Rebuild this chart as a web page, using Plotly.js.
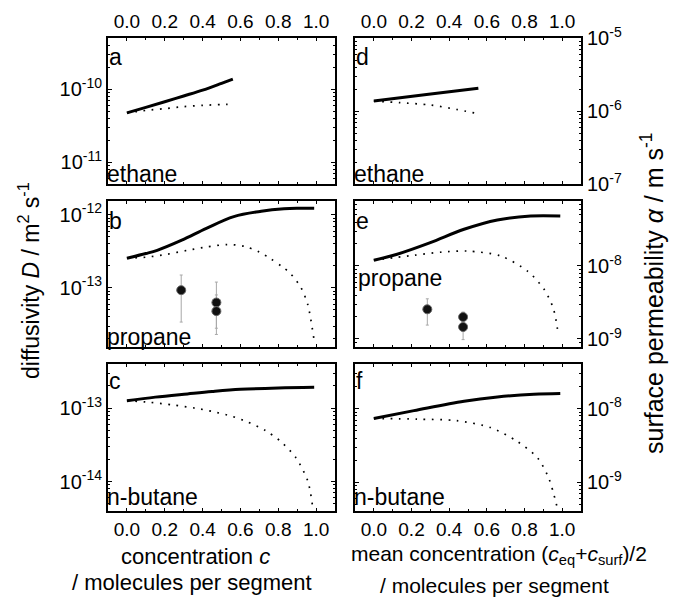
<!DOCTYPE html>
<html>
<head>
<meta charset="utf-8">
<script src="https://cdn.plot.ly/plotly-3.0.1.min.js"></script>
<style>
  html, body { margin: 0; padding: 0; background: #fff; }
  #chart { width: 677px; height: 599px; }
</style>
</head>
<body>
<div id="chart"></div>
<script>
// ---- concentration grids and model curves (c in molecules per segment) ----
// ethane, diffusivity D (m^2/s)
const ethaneD_c      = [0, 0.1, 0.2, 0.3, 0.4, 0.5, 0.56];
const ethaneD_solid  = [4.73e-11, 5.62e-11, 6.7e-11, 8.04e-11, 9.68e-11, 1.2e-10, 1.37e-10];
const ethaneD_dotted = [4.73e-11, 5.1e-11, 5.4e-11, 5.75e-11, 5.98e-11, 6.15e-11, 6.2e-11];

// propane, diffusivity D
const propaneD_cs     = [0, 0.1, 0.16, 0.29, 0.42, 0.565, 0.71, 0.83, 0.9, 0.99];
const propaneD_solid  = [2.55e-13, 2.95e-13, 3.27e-13, 4.5e-13, 6.53e-13, 9.46e-13, 1.12e-12, 1.21e-12, 1.23e-12, 1.23e-12];
const propaneD_cd     = [0, 0.1, 0.21, 0.32, 0.42, 0.53, 0.62, 0.7, 0.76, 0.82, 0.86, 0.92, 0.956, 0.988];
const propaneD_dotted = [2.55e-13, 2.63e-13, 2.88e-13, 3.27e-13, 3.63e-13, 3.92e-13, 3.72e-13, 3.09e-13, 2.51e-13, 1.95e-13, 1.62e-13, 1.01e-13, 5.9e-14, 2.04e-14];
// propane, measured D with error ranges
const propaneD_expC  = [0.287, 0.473, 0.473];
const propaneD_expV  = [9.3e-14, 6.3e-14, 4.8e-14];
const propaneD_expHi = [1.5e-13, 1.2e-13, 8.0e-14];
const propaneD_expLo = [3.4e-14, 2.8e-14, 2.3e-14];

// n-butane, diffusivity D
const butaneD_cs     = [0, 0.15, 0.32, 0.45, 0.6, 0.8, 0.99];
const butaneD_solid  = [1.26e-13, 1.41e-13, 1.56e-13, 1.68e-13, 1.8e-13, 1.88e-13, 1.92e-13];
const butaneD_cd     = [0, 0.12, 0.246, 0.36, 0.46, 0.55, 0.637, 0.73, 0.814, 0.894, 0.956, 0.982];
const butaneD_dotted = [1.26e-13, 1.2e-13, 1.1e-13, 1.0e-13, 8.9e-14, 7.8e-14, 6.5e-14, 5.0e-14, 3.5e-14, 2.1e-14, 1.02e-14, 4.5e-15];

// ethane, surface permeability alpha (m/s)
const ethaneA_cs     = [0, 0.28, 0.555];
const ethaneA_solid  = [1.37e-6, 1.68e-6, 2.05e-6];
const ethaneA_cd     = [0, 0.14, 0.3, 0.44, 0.545];
const ethaneA_dotted = [1.37e-6, 1.3e-6, 1.21e-6, 1.05e-6, 9.3e-7];

// propane, surface permeability alpha
const propaneA_cs     = [0, 0.124, 0.3, 0.479, 0.656, 0.833, 0.99];
const propaneA_solid  = [1.2e-8, 1.45e-8, 2.09e-8, 3.18e-8, 4.27e-8, 4.84e-8, 4.84e-8];
const propaneA_cd     = [0, 0.213, 0.36, 0.497, 0.674, 0.816, 0.904, 0.954, 0.98];
const propaneA_dotted = [1.2e-8, 1.4e-8, 1.55e-8, 1.6e-8, 1.37e-8, 8.5e-9, 4.8e-9, 2.57e-9, 1.12e-9];
const propaneA_expC  = [0.284, 0.474, 0.474];
const propaneA_expV  = [2.55e-9, 2.0e-9, 1.46e-9];
const propaneA_expHi = [3.55e-9, 2.34e-9, 1.8e-9];
const propaneA_expLo = [1.55e-9, 1.3e-9, 0.98e-9];

// n-butane, surface permeability alpha
const butaneA_cs     = [0, 0.213, 0.479, 0.656, 0.85, 0.99];
const butaneA_solid  = [7.4e-9, 9.46e-9, 1.27e-8, 1.45e-8, 1.58e-8, 1.62e-8];
const butaneA_cd     = [0, 0.23, 0.44, 0.62, 0.76, 0.87, 0.93, 0.975];
const butaneA_dotted = [7.4e-9, 7.24e-9, 6.9e-9, 5.56e-9, 3.63e-9, 2.14e-9, 1.12e-9, 4.4e-10];

// tick labels along concentration
const concTicks = [0, 0.2, 0.4, 0.6, 0.8, 1.0];
const concTickText = ['0.0', '0.2', '0.4', '0.6', '0.8', '1.0'];
// labelled powers of ten on each vertical axis
const expD_ethane  = [-11, -10];
const expD_propane = [-13, -12];
const expD_butane  = [-14, -13];
const expA_ethane  = [-7, -6, -5];
const expA_propane = [-9, -8];
const expA_butane  = [-9, -8];

// ---- figure geometry (pixels) ----
const W = 677, H = 599;
const FONT = 'Liberation Sans, Arial, Helvetica, sans-serif';
const px = x => x / W;
const py = y => 1 - y / H;

const colL = [108, 335], colR = [355, 581];
const rows = [[38, 184], [201, 347], [364, 511]];

const solidLine  = { color: '#000', width: 3, shape: 'spline', smoothing: 1 };
const dottedLine = { color: '#000', width: 1.7, dash: '1.7px,6.6px', shape: 'spline', smoothing: 0.8 };

const traces = [];
function curve(xa, ya, c, v, line) {
  traces.push({ type: 'scatter', mode: 'lines', x: c, y: v, xaxis: xa, yaxis: ya,
                line: line, hoverinfo: 'skip', showlegend: false });
}
function measured(xa, ya, c, v, hi, lo) {
  traces.push({ type: 'scatter', mode: 'markers', x: c, y: v, xaxis: xa, yaxis: ya,
    marker: { symbol: 'circle', size: 9, color: '#111', line: { color: '#666', width: 1 } },
    error_y: { type: 'data', symmetric: false,
               array: hi.map((h, i) => h - v[i]),
               arrayminus: lo.map((l, i) => v[i] - l),
               color: '#a8a8a8', thickness: 1, width: 1.5 },
    showlegend: false });
}

// left column: D
curve('x',  'y',  ethaneD_c, ethaneD_dotted, dottedLine);
curve('x',  'y',  ethaneD_c, ethaneD_solid, solidLine);
curve('x2', 'y2', propaneD_cd, propaneD_dotted, dottedLine);
curve('x2', 'y2', propaneD_cs, propaneD_solid, solidLine);
measured('x2', 'y2', propaneD_expC, propaneD_expV, propaneD_expHi, propaneD_expLo);
curve('x3', 'y3', butaneD_cd, butaneD_dotted, dottedLine);
curve('x3', 'y3', butaneD_cs, butaneD_solid, solidLine);
// right column: alpha
curve('x4', 'y4', ethaneA_cd, ethaneA_dotted, dottedLine);
curve('x4', 'y4', ethaneA_cs, ethaneA_solid, solidLine);
curve('x5', 'y5', propaneA_cd, propaneA_dotted, dottedLine);
curve('x5', 'y5', propaneA_cs, propaneA_solid, solidLine);
measured('x5', 'y5', propaneA_expC, propaneA_expV, propaneA_expHi, propaneA_expLo);
curve('x6', 'y6', butaneA_cd, butaneA_dotted, dottedLine);
curve('x6', 'y6', butaneA_cs, butaneA_solid, solidLine);

// minor log ticks: 2..9 times each power of ten within a range
function logMinor(range) {
  const out = [];
  for (let e = Math.floor(range[0]); e <= Math.ceil(range[1]); e++) {
    for (let k = 2; k <= 9; k++) {
      const v = k * Math.pow(10, e);
      const lv = Math.log10(v);
      if (lv > range[0] && lv < range[1]) out.push(v);
    }
  }
  return out;
}

function xAxis(col, row, anchor) {
  const showLabels = row !== 1;
  return {
    domain: [px(col[0]), px(col[1])], anchor: anchor,
    range: [-0.1, 1.1], side: row === 0 ? 'top' : 'bottom',
    tickmode: 'array', tickvals: concTicks, ticktext: concTickText,
    showticklabels: showLabels,
    ticks: 'inside', ticklen: 3, tickwidth: 1, tickcolor: '#000',
    minor: { tickmode: 'linear', tick0: 0, dtick: 0.1, ticks: 'inside', ticklen: 2, tickcolor: '#000', showgrid: false },
    showline: true, linecolor: '#000', linewidth: 2, mirror: 'ticks',
    showgrid: false, zeroline: false, fixedrange: true,
    tickfont: { family: FONT, size: 19, color: '#000' }
  };
}
function yAxis(row, range, exps, side, anchor) {
  return {
    domain: [py(rows[row][1]), py(rows[row][0])], anchor: anchor,
    type: 'log', range: range, side: side,
    tickmode: 'array',
    tickvals: exps.map(e => Math.pow(10, e)),
    ticktext: exps.map(e => '10<sup>' + String(e) + '</sup>'),
    ticks: 'inside', ticklen: 4, tickwidth: 1, tickcolor: '#000',
    minor: { tickmode: 'array', tickvals: logMinor(range), ticks: 'inside', ticklen: 2, tickcolor: '#000', showgrid: false },
    showline: true, linecolor: '#000', linewidth: 2, mirror: 'ticks',
    showgrid: false, zeroline: false, fixedrange: true,
    tickfont: { family: FONT, size: 20, color: '#000' }
  };
}

const layout = {
  width: W, height: H,
  margin: { l: 0, r: 0, t: 0, b: 0 },
  paper_bgcolor: '#fff', plot_bgcolor: '#fff',
  showlegend: false,
  font: { family: FONT, color: '#000' },
  xaxis:  xAxis(colL, 0, 'y'),
  xaxis2: xAxis(colL, 1, 'y2'),
  xaxis3: xAxis(colL, 2, 'y3'),
  xaxis4: xAxis(colR, 0, 'y4'),
  xaxis5: xAxis(colR, 1, 'y5'),
  xaxis6: xAxis(colR, 2, 'y6'),
  yaxis:  yAxis(0, [-11.30, -9.30], expD_ethane,  'left', 'x'),
  yaxis2: yAxis(1, [-13.81, -11.81], expD_propane, 'left', 'x2'),
  yaxis3: yAxis(2, [-14.40, -12.40], expD_butane,  'left', 'x3'),
  yaxis4: yAxis(0, [-7.0, -4.999], expA_ethane,  'right', 'x4'),
  yaxis5: yAxis(1, [-9.11, -7.11], expA_propane, 'right', 'x5'),
  yaxis6: yAxis(2, [-9.39, -7.39], expA_butane,  'right', 'x6'),
  annotations: []
};

function label(text, x, y, size, opts) {
  layout.annotations.push(Object.assign({
    text: text, x: px(x), y: py(y), xref: 'paper', yref: 'paper',
    showarrow: false, xanchor: 'left', yanchor: 'middle',
    font: { family: FONT, size: size, color: '#000' }
  }, opts || {}));
}

// panel letters and gas names
label('a', 107, 57, 23);
label('b', 107, 221, 23);
label('c', 107, 381, 23);
label('d', 354, 57, 23);
label('e', 354, 221, 23);
label('f', 354, 381, 23);
label('ethane', 105, 174, 23);
label('propane', 105, 337, 23);
label('n-butane', 105, 497, 23);
label('ethane', 352, 174, 23);
label('propane', 356, 278, 23);
label('n-butane', 352, 497, 23);

// axis titles
label('diffusivity <i>D</i> / m<sup>2</sup> s<sup>-1</sup>', 29, 281, 23,
      { xanchor: 'center', textangle: -90 });
label('surface permeability <i>α</i> / m s<sup>-1</sup>', 652, 293, 25,
      { xanchor: 'center', textangle: -90 });
label('concentration <i>c</i>', 195, 556, 22, { xanchor: 'center' });
label('/ molecules per segment', 192, 582, 22, { xanchor: 'center' });
label('mean concentration (<i>c</i><sub>eq</sub>+<i>c</i><sub>surf</sub>)/2', 499, 555, 21, { xanchor: 'center' });
label('/ molecules per segment', 494, 585, 21, { xanchor: 'center' });

Plotly.newPlot('chart', traces, layout, { staticPlot: true, displayModeBar: false });
</script>
</body>
</html>
